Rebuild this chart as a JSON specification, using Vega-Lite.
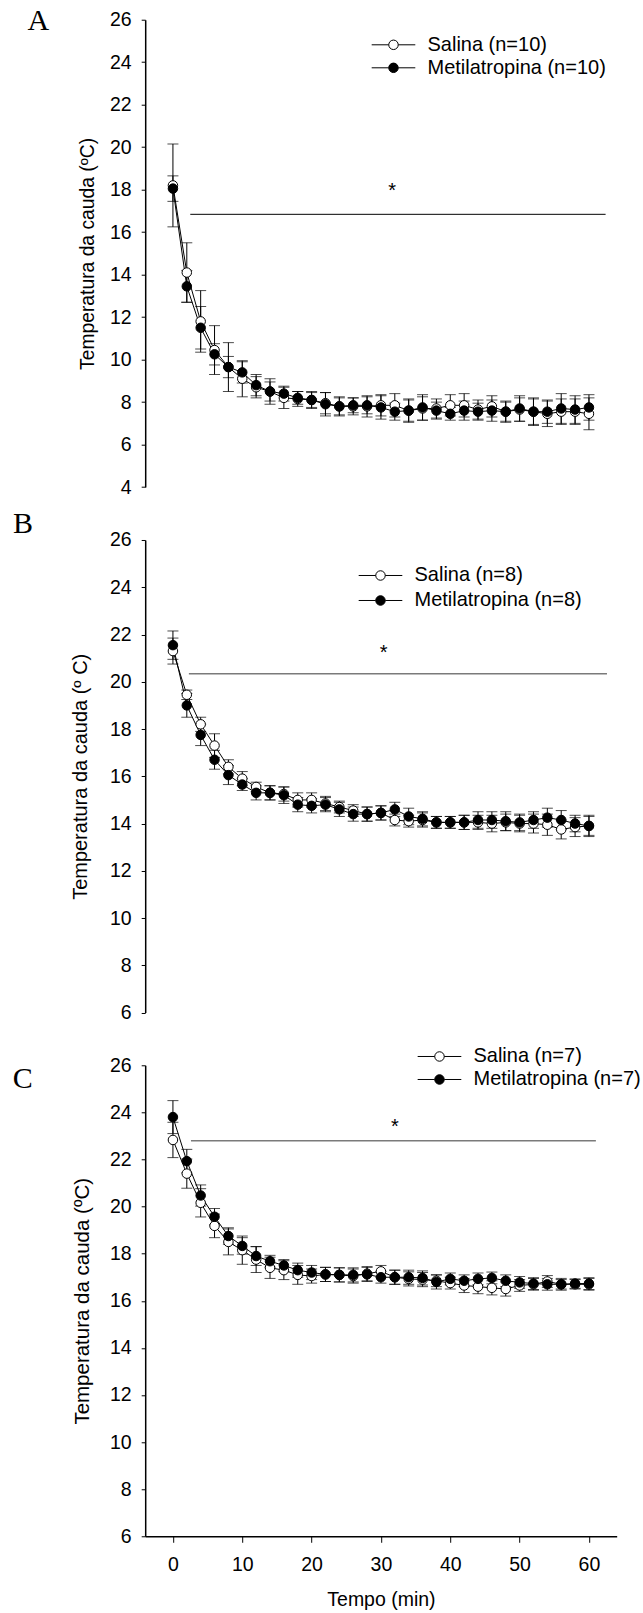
{
  "$schema": "https://vega.github.io/schema/vega-lite/v6.json",
  "background": "white",
  "padding": {"left": 12.2, "top": 5.7, "right": 0, "bottom": 0},
  "datasets": {
    "A": [
      {"t":0,"g":"Salina (n=10)","m":18.2,"e":1.95},{"t":2,"g":"Salina (n=10)","m":14.1,"e":1.4},{"t":4,"g":"Salina (n=10)","m":11.8,"e":1.45},{"t":6,"g":"Salina (n=10)","m":10.45,"e":1.15},{"t":8,"g":"Salina (n=10)","m":9.65,"e":0.5},{"t":10,"g":"Salina (n=10)","m":9.1,"e":0.85},{"t":12,"g":"Salina (n=10)","m":8.7,"e":0.5},{"t":14,"g":"Salina (n=10)","m":8.5,"e":0.6},{"t":16,"g":"Salina (n=10)","m":8.2,"e":0.5},{"t":18,"g":"Salina (n=10)","m":8.15,"e":0.35},{"t":20,"g":"Salina (n=10)","m":8.1,"e":0.4},{"t":22,"g":"Salina (n=10)","m":7.95,"e":0.5},{"t":24,"g":"Salina (n=10)","m":7.8,"e":0.45},{"t":26,"g":"Salina (n=10)","m":7.8,"e":0.4},{"t":28,"g":"Salina (n=10)","m":7.8,"e":0.5},{"t":30,"g":"Salina (n=10)","m":7.85,"e":0.5},{"t":32,"g":"Salina (n=10)","m":7.85,"e":0.55},{"t":34,"g":"Salina (n=10)","m":7.6,"e":0.5},{"t":36,"g":"Salina (n=10)","m":7.7,"e":0.55},{"t":38,"g":"Salina (n=10)","m":7.7,"e":0.45},{"t":40,"g":"Salina (n=10)","m":7.85,"e":0.5},{"t":42,"g":"Salina (n=10)","m":7.85,"e":0.55},{"t":44,"g":"Salina (n=10)","m":7.65,"e":0.45},{"t":46,"g":"Salina (n=10)","m":7.8,"e":0.5},{"t":48,"g":"Salina (n=10)","m":7.55,"e":0.5},{"t":50,"g":"Salina (n=10)","m":7.65,"e":0.55},{"t":52,"g":"Salina (n=10)","m":7.55,"e":0.6},{"t":54,"g":"Salina (n=10)","m":7.45,"e":0.6},{"t":56,"g":"Salina (n=10)","m":7.55,"e":0.6},{"t":58,"g":"Salina (n=10)","m":7.55,"e":0.6},{"t":60,"g":"Salina (n=10)","m":7.45,"e":0.75},
      {"t":0,"g":"Metilatropina (n=10)","m":18.05,"e":0.6},{"t":2,"g":"Metilatropina (n=10)","m":13.45,"e":0.75},{"t":4,"g":"Metilatropina (n=10)","m":11.5,"e":1.0},{"t":6,"g":"Metilatropina (n=10)","m":10.25,"e":0.5},{"t":8,"g":"Metilatropina (n=10)","m":9.65,"e":1.15},{"t":10,"g":"Metilatropina (n=10)","m":9.4,"e":0.5},{"t":12,"g":"Metilatropina (n=10)","m":8.8,"e":0.5},{"t":14,"g":"Metilatropina (n=10)","m":8.5,"e":0.45},{"t":16,"g":"Metilatropina (n=10)","m":8.4,"e":0.35},{"t":18,"g":"Metilatropina (n=10)","m":8.2,"e":0.3},{"t":20,"g":"Metilatropina (n=10)","m":8.1,"e":0.35},{"t":22,"g":"Metilatropina (n=10)","m":7.9,"e":0.55},{"t":24,"g":"Metilatropina (n=10)","m":7.8,"e":0.4},{"t":26,"g":"Metilatropina (n=10)","m":7.85,"e":0.35},{"t":28,"g":"Metilatropina (n=10)","m":7.85,"e":0.4},{"t":30,"g":"Metilatropina (n=10)","m":7.75,"e":0.55},{"t":32,"g":"Metilatropina (n=10)","m":7.55,"e":0.4},{"t":34,"g":"Metilatropina (n=10)","m":7.6,"e":0.55},{"t":36,"g":"Metilatropina (n=10)","m":7.75,"e":0.6},{"t":38,"g":"Metilatropina (n=10)","m":7.6,"e":0.4},{"t":40,"g":"Metilatropina (n=10)","m":7.45,"e":0.3},{"t":42,"g":"Metilatropina (n=10)","m":7.6,"e":0.45},{"t":44,"g":"Metilatropina (n=10)","m":7.55,"e":0.4},{"t":46,"g":"Metilatropina (n=10)","m":7.6,"e":0.5},{"t":48,"g":"Metilatropina (n=10)","m":7.55,"e":0.45},{"t":50,"g":"Metilatropina (n=10)","m":7.7,"e":0.6},{"t":52,"g":"Metilatropina (n=10)","m":7.55,"e":0.65},{"t":54,"g":"Metilatropina (n=10)","m":7.55,"e":0.55},{"t":56,"g":"Metilatropina (n=10)","m":7.7,"e":0.7},{"t":58,"g":"Metilatropina (n=10)","m":7.65,"e":0.65},{"t":60,"g":"Metilatropina (n=10)","m":7.75,"e":0.6}
    ],
    "B": [
      {"t":0,"g":"Salina (n=8)","m":21.3,"e":0.55},{"t":2,"g":"Salina (n=8)","m":19.45,"e":0.2},{"t":4,"g":"Salina (n=8)","m":18.2,"e":0.3},{"t":6,"g":"Salina (n=8)","m":17.3,"e":0.5},{"t":8,"g":"Salina (n=8)","m":16.4,"e":0.3},{"t":10,"g":"Salina (n=8)","m":15.9,"e":0.3},{"t":12,"g":"Salina (n=8)","m":15.55,"e":0.2},{"t":14,"g":"Salina (n=8)","m":15.3,"e":0.3},{"t":16,"g":"Salina (n=8)","m":15.25,"e":0.3},{"t":18,"g":"Salina (n=8)","m":15.0,"e":0.3},{"t":20,"g":"Salina (n=8)","m":15.0,"e":0.3},{"t":22,"g":"Salina (n=8)","m":14.85,"e":0.3},{"t":24,"g":"Salina (n=8)","m":14.7,"e":0.25},{"t":26,"g":"Salina (n=8)","m":14.55,"e":0.25},{"t":28,"g":"Salina (n=8)","m":14.4,"e":0.3},{"t":30,"g":"Salina (n=8)","m":14.45,"e":0.3},{"t":32,"g":"Salina (n=8)","m":14.15,"e":0.25},{"t":34,"g":"Salina (n=8)","m":14.1,"e":0.25},{"t":36,"g":"Salina (n=8)","m":14.15,"e":0.3},{"t":38,"g":"Salina (n=8)","m":14.05,"e":0.25},{"t":40,"g":"Salina (n=8)","m":14.05,"e":0.25},{"t":42,"g":"Salina (n=8)","m":14.05,"e":0.3},{"t":44,"g":"Salina (n=8)","m":14.05,"e":0.3},{"t":46,"g":"Salina (n=8)","m":14.0,"e":0.35},{"t":48,"g":"Salina (n=8)","m":14.05,"e":0.35},{"t":50,"g":"Salina (n=8)","m":14.0,"e":0.35},{"t":52,"g":"Salina (n=8)","m":14.0,"e":0.4},{"t":54,"g":"Salina (n=8)","m":13.95,"e":0.45},{"t":56,"g":"Salina (n=8)","m":13.75,"e":0.4},{"t":58,"g":"Salina (n=8)","m":13.85,"e":0.4},{"t":60,"g":"Salina (n=8)","m":13.9,"e":0.4},
      {"t":0,"g":"Metilatropina (n=8)","m":21.55,"e":0.6},{"t":2,"g":"Metilatropina (n=8)","m":19.0,"e":0.5},{"t":4,"g":"Metilatropina (n=8)","m":17.75,"e":0.45},{"t":6,"g":"Metilatropina (n=8)","m":16.7,"e":0.4},{"t":8,"g":"Metilatropina (n=8)","m":16.05,"e":0.4},{"t":10,"g":"Metilatropina (n=8)","m":15.65,"e":0.25},{"t":12,"g":"Metilatropina (n=8)","m":15.3,"e":0.3},{"t":14,"g":"Metilatropina (n=8)","m":15.3,"e":0.3},{"t":16,"g":"Metilatropina (n=8)","m":15.2,"e":0.35},{"t":18,"g":"Metilatropina (n=8)","m":14.8,"e":0.3},{"t":20,"g":"Metilatropina (n=8)","m":14.75,"e":0.3},{"t":22,"g":"Metilatropina (n=8)","m":14.8,"e":0.3},{"t":24,"g":"Metilatropina (n=8)","m":14.6,"e":0.3},{"t":26,"g":"Metilatropina (n=8)","m":14.4,"e":0.3},{"t":28,"g":"Metilatropina (n=8)","m":14.4,"e":0.3},{"t":30,"g":"Metilatropina (n=8)","m":14.45,"e":0.3},{"t":32,"g":"Metilatropina (n=8)","m":14.6,"e":0.3},{"t":34,"g":"Metilatropina (n=8)","m":14.3,"e":0.35},{"t":36,"g":"Metilatropina (n=8)","m":14.2,"e":0.3},{"t":38,"g":"Metilatropina (n=8)","m":14.05,"e":0.25},{"t":40,"g":"Metilatropina (n=8)","m":14.05,"e":0.25},{"t":42,"g":"Metilatropina (n=8)","m":14.05,"e":0.3},{"t":44,"g":"Metilatropina (n=8)","m":14.15,"e":0.35},{"t":46,"g":"Metilatropina (n=8)","m":14.15,"e":0.35},{"t":48,"g":"Metilatropina (n=8)","m":14.1,"e":0.4},{"t":50,"g":"Metilatropina (n=8)","m":14.05,"e":0.35},{"t":52,"g":"Metilatropina (n=8)","m":14.15,"e":0.35},{"t":54,"g":"Metilatropina (n=8)","m":14.25,"e":0.4},{"t":56,"g":"Metilatropina (n=8)","m":14.15,"e":0.4},{"t":58,"g":"Metilatropina (n=8)","m":14.0,"e":0.35},{"t":60,"g":"Metilatropina (n=8)","m":13.9,"e":0.45}
    ],
    "C": [
      {"t":0,"g":"Salina (n=7)","m":22.83,"e":0.75},{"t":2,"g":"Salina (n=7)","m":21.4,"e":0.62},{"t":4,"g":"Salina (n=7)","m":20.16,"e":0.6},{"t":6,"g":"Salina (n=7)","m":19.18,"e":0.5},{"t":8,"g":"Salina (n=7)","m":18.5,"e":0.55},{"t":10,"g":"Salina (n=7)","m":18.15,"e":0.6},{"t":12,"g":"Salina (n=7)","m":17.75,"e":0.55},{"t":14,"g":"Salina (n=7)","m":17.4,"e":0.45},{"t":16,"g":"Salina (n=7)","m":17.3,"e":0.4},{"t":18,"g":"Salina (n=7)","m":17.1,"e":0.4},{"t":20,"g":"Salina (n=7)","m":17.05,"e":0.3},{"t":22,"g":"Salina (n=7)","m":17.12,"e":0.3},{"t":24,"g":"Salina (n=7)","m":17.1,"e":0.3},{"t":26,"g":"Salina (n=7)","m":17.05,"e":0.3},{"t":28,"g":"Salina (n=7)","m":17.15,"e":0.3},{"t":30,"g":"Salina (n=7)","m":17.25,"e":0.25},{"t":32,"g":"Salina (n=7)","m":17.0,"e":0.3},{"t":34,"g":"Salina (n=7)","m":16.93,"e":0.3},{"t":36,"g":"Salina (n=7)","m":16.9,"e":0.3},{"t":38,"g":"Salina (n=7)","m":16.85,"e":0.25},{"t":40,"g":"Salina (n=7)","m":16.75,"e":0.25},{"t":42,"g":"Salina (n=7)","m":16.65,"e":0.3},{"t":44,"g":"Salina (n=7)","m":16.6,"e":0.3},{"t":46,"g":"Salina (n=7)","m":16.55,"e":0.3},{"t":48,"g":"Salina (n=7)","m":16.5,"e":0.3},{"t":50,"g":"Salina (n=7)","m":16.65,"e":0.25},{"t":52,"g":"Salina (n=7)","m":16.7,"e":0.25},{"t":54,"g":"Salina (n=7)","m":16.82,"e":0.25},{"t":56,"g":"Salina (n=7)","m":16.7,"e":0.25},{"t":58,"g":"Salina (n=7)","m":16.7,"e":0.2},{"t":60,"g":"Salina (n=7)","m":16.7,"e":0.25},
      {"t":0,"g":"Metilatropina (n=7)","m":23.8,"e":0.7},{"t":2,"g":"Metilatropina (n=7)","m":21.93,"e":0.5},{"t":4,"g":"Metilatropina (n=7)","m":20.47,"e":0.45},{"t":6,"g":"Metilatropina (n=7)","m":19.57,"e":0.35},{"t":8,"g":"Metilatropina (n=7)","m":18.75,"e":0.35},{"t":10,"g":"Metilatropina (n=7)","m":18.33,"e":0.35},{"t":12,"g":"Metilatropina (n=7)","m":17.9,"e":0.4},{"t":14,"g":"Metilatropina (n=7)","m":17.68,"e":0.25},{"t":16,"g":"Metilatropina (n=7)","m":17.5,"e":0.25},{"t":18,"g":"Metilatropina (n=7)","m":17.3,"e":0.3},{"t":20,"g":"Metilatropina (n=7)","m":17.2,"e":0.3},{"t":22,"g":"Metilatropina (n=7)","m":17.12,"e":0.3},{"t":24,"g":"Metilatropina (n=7)","m":17.1,"e":0.3},{"t":26,"g":"Metilatropina (n=7)","m":17.1,"e":0.3},{"t":28,"g":"Metilatropina (n=7)","m":17.12,"e":0.3},{"t":30,"g":"Metilatropina (n=7)","m":17.0,"e":0.25},{"t":32,"g":"Metilatropina (n=7)","m":17.0,"e":0.3},{"t":34,"g":"Metilatropina (n=7)","m":17.0,"e":0.3},{"t":36,"g":"Metilatropina (n=7)","m":16.97,"e":0.3},{"t":38,"g":"Metilatropina (n=7)","m":16.8,"e":0.3},{"t":40,"g":"Metilatropina (n=7)","m":16.93,"e":0.25},{"t":42,"g":"Metilatropina (n=7)","m":16.85,"e":0.25},{"t":44,"g":"Metilatropina (n=7)","m":16.93,"e":0.25},{"t":46,"g":"Metilatropina (n=7)","m":16.97,"e":0.25},{"t":48,"g":"Metilatropina (n=7)","m":16.85,"e":0.25},{"t":50,"g":"Metilatropina (n=7)","m":16.78,"e":0.25},{"t":52,"g":"Metilatropina (n=7)","m":16.73,"e":0.25},{"t":54,"g":"Metilatropina (n=7)","m":16.7,"e":0.25},{"t":56,"g":"Metilatropina (n=7)","m":16.7,"e":0.2},{"t":58,"g":"Metilatropina (n=7)","m":16.73,"e":0.2},{"t":60,"g":"Metilatropina (n=7)","m":16.73,"e":0.25}
    ],
    "rA": [{"t": 2.5, "t2": 62.4, "m": 16.84}],
    "rB": [{"t": 2.3, "t2": 62.6, "m": 20.34}],
    "rC": [{"t": 2.6, "t2": 61.0, "m": 22.8}],
    "aA": [{"t": 31.6, "m": 18.1, "s": "*"}],
    "aB": [{"t": 30.4, "m": 21.35, "s": "*"}],
    "aC": [{"t": 32.0, "m": 23.5, "s": "*"}]
  },
  "spacing": 52.3,
  "bounds": "flush",
  "resolve": {"scale": {"x": "independent", "y": "independent", "fill": "independent"}, "legend": {"fill": "independent"}},
  "vconcat": [
    {
      "width": 471.5, "height": 467.4,
      "title": {"text": "A", "anchor": "start", "frame": "group", "orient": "top", "font": "Liberation Serif", "fontSize": 30, "fontWeight": "normal", "color": "black", "baseline": "alphabetic", "offset": 0, "dx": -117.8, "dy": 50.15},
      "encoding": {
        "x": {"field": "t", "type": "quantitative", "scale": {"domain": [-4, 64], "nice": false, "zero": false}, "axis": null},
        "y": {"field": "m", "type": "quantitative", "scale": {"domain": [4, 26], "nice": false, "zero": false},
              "axis": {"values": [4,6,8,10,12,14,16,18,20,22,24,26], "title": "Temperatura da cauda (ºC)", "titleFontSize": 19.3, "titleX": -58, "titleY": 233.7, "titleBaseline": "middle"}}
      },
      "layer": [
        {"data": {"name": "A"}, "mark": {"type": "line", "color": "black", "strokeWidth": 1}, "encoding": {"detail": {"field": "g"}}},
        {"data": {"name": "A"}, "mark": {"type": "errorbar", "ticks": true, "size": 11, "thickness": 1, "color": "black"}, "encoding": {"yError": {"field": "e"}}},
        {"data": {"name": "A"}, "mark": {"type": "point", "filled": true, "size": 90, "stroke": "black", "strokeWidth": 1, "opacity": 1},
         "encoding": {"fill": {"field": "g", "type": "nominal", "scale": {"domain": ["Salina (n=10)", "Metilatropina (n=10)"], "range": ["white", "black"]},
                    "legend": {"orient": "none", "legendX": 238.3, "legendY": 15.1, "rowPadding": 3}}}},
        {"data": {"name": "rA"}, "mark": {"type": "rule", "color": "black", "strokeWidth": 1}, "encoding": {"x2": {"field": "t2"}}},
        {"data": {"name": "aA"}, "mark": {"type": "text", "fontSize": 20, "color": "black", "baseline": "middle", "dy": 3}, "encoding": {"text": {"field": "s"}}}
      ]
    },
    {
      "width": 471.5, "height": 472.6,
      "title": {"text": "B", "anchor": "start", "frame": "group", "orient": "top", "font": "Liberation Serif", "fontSize": 30, "fontWeight": "normal", "color": "black", "baseline": "alphabetic", "offset": 0, "dx": -132.2, "dy": 32.75},
      "encoding": {
        "x": {"field": "t", "type": "quantitative", "scale": {"domain": [-4, 64], "nice": false, "zero": false}, "axis": null},
        "y": {"field": "m", "type": "quantitative", "scale": {"domain": [6, 26], "nice": false, "zero": false},
              "axis": {"values": [6,8,10,12,14,16,18,20,22,24,26], "title": "Temperatura da cauda (º C)", "titleFontSize": 20, "titleX": -64.5, "titleY": 236.3, "titleBaseline": "middle"}}
      },
      "layer": [
        {"data": {"name": "B"}, "mark": {"type": "line", "color": "black", "strokeWidth": 1}, "encoding": {"detail": {"field": "g"}}},
        {"data": {"name": "B"}, "mark": {"type": "errorbar", "ticks": true, "size": 11, "thickness": 1, "color": "black"}, "encoding": {"yError": {"field": "e"}}},
        {"data": {"name": "B"}, "mark": {"type": "point", "filled": true, "size": 90, "stroke": "black", "strokeWidth": 1, "opacity": 1},
         "encoding": {"fill": {"field": "g", "type": "nominal", "scale": {"domain": ["Salina (n=8)", "Metilatropina (n=8)"], "range": ["white", "black"]},
                    "legend": {"orient": "none", "legendX": 225.3, "legendY": 25.5, "rowPadding": 5}}}},
        {"data": {"name": "rB"}, "mark": {"type": "rule", "color": "#7a7a7a", "strokeWidth": 1.5}, "encoding": {"x2": {"field": "t2"}}},
        {"data": {"name": "aB"}, "mark": {"type": "text", "fontSize": 20, "color": "black", "baseline": "middle", "dy": 3}, "encoding": {"text": {"field": "s"}}}
      ]
    },
    {
      "width": 471.5, "height": 471,
      "title": {"text": "C", "anchor": "start", "frame": "group", "orient": "top", "font": "Liberation Serif", "fontSize": 30, "fontWeight": "normal", "color": "black", "baseline": "alphabetic", "offset": 0, "dx": -132.5, "dy": 71.3},
      "encoding": {
        "x": {"field": "t", "type": "quantitative", "scale": {"domain": [-4, 64], "nice": false, "zero": false},
              "axis": {"values": [0,10,20,30,40,50,60], "title": "Tempo (min)", "tickSize": 6, "labelPadding": 13, "titlePadding": 17}},
        "y": {"field": "m", "type": "quantitative", "scale": {"domain": [6, 26], "nice": false, "zero": false},
              "axis": {"values": [6,8,10,12,14,16,18,20,22,24,26], "title": "Temperatura da cauda (ºC)", "titleFontSize": 20.5, "titleX": -62.5, "titleY": 235.5, "titleBaseline": "middle"}}
      },
      "layer": [
        {"data": {"name": "C"}, "mark": {"type": "line", "color": "black", "strokeWidth": 1}, "encoding": {"detail": {"field": "g"}}},
        {"data": {"name": "C"}, "mark": {"type": "errorbar", "ticks": true, "size": 11, "thickness": 1, "color": "black"}, "encoding": {"yError": {"field": "e"}}},
        {"data": {"name": "C"}, "mark": {"type": "point", "filled": true, "size": 90, "stroke": "black", "strokeWidth": 1, "opacity": 1},
         "encoding": {"fill": {"field": "g", "type": "nominal", "scale": {"domain": ["Salina (n=7)", "Metilatropina (n=7)"], "range": ["white", "black"]},
                    "legend": {"orient": "none", "legendX": 284.3, "legendY": -18.8, "rowPadding": 3}}}},
        {"data": {"name": "rC"}, "mark": {"type": "rule", "color": "#7a7a7a", "strokeWidth": 1.5}, "encoding": {"x2": {"field": "t2"}}},
        {"data": {"name": "aC"}, "mark": {"type": "text", "fontSize": 20, "color": "black", "baseline": "middle", "dy": 3}, "encoding": {"text": {"field": "s"}}}
      ]
    }
  ],
  "config": {
    "font": "Liberation Sans",
    "view": {"stroke": null},
    "axis": {"grid": false, "domainColor": "black", "domainWidth": 1.5, "tickColor": "black", "tickWidth": 1, "tickSize": 4, "labelPadding": 10, "labelFont": "Liberation Sans", "labelFontSize": 19.5, "labelColor": "black", "labelFlush": false, "labelOverlap": false, "labelBound": false, "titleFont": "Liberation Sans", "titleFontSize": 19.5, "titleFontWeight": "normal", "titleColor": "black"},
    "legend": {"title": null, "padding": 0, "symbolType": "M-4.6,0L-1,0A1,1,0,1,1,1,0A1,1,0,1,1,-1,0M1,0L4.6,0", "symbolSize": 90, "symbolStrokeColor": "black", "symbolStrokeWidth": 1, "labelFont": "Liberation Sans", "labelFontSize": 20, "labelColor": "black", "labelOffset": 24, "labelLimit": 0}
  }
}
